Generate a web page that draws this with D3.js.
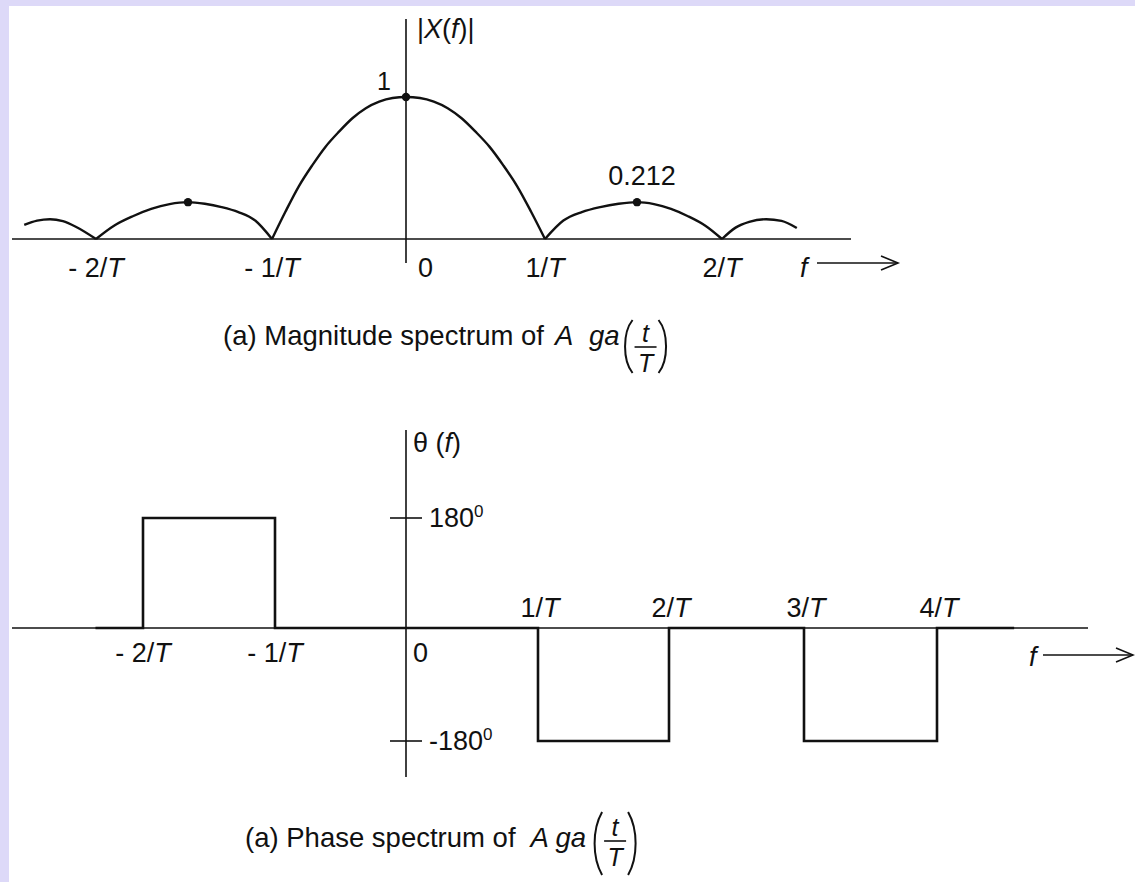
<!DOCTYPE html>
<html><head><meta charset="utf-8">
<script src="https://cdn.jsdelivr.net/npm/d3@7"></script>
<style>
html,body{margin:0;padding:0;background:#fff;}
svg{display:block;}
text{font-family:"Liberation Sans",Arial,Helvetica,sans-serif;fill:#111;white-space:pre;}
</style></head><body>
<svg id="fig" width="1135" height="882"></svg>
<script>
// ---- Magnitude spectrum |X(f)|, one array per lobe (f in units of 1/T) ----
const outerLeftLobe  = [[-2.39,0.07],[-2.32,0.095],[-2.25,0.104],[-2.18,0.092],[-2.11,0.06],[-2,0]];
const sideLeftLobe   = [[-2,0],[-1.9,0.067],[-1.8,0.122],[-1.7,0.168],[-1.6,0.199],[-1.5,0.212],[-1.4,0.2015],[-1.3,0.18],[-1.2,0.148],[-1.1,0.096],[-1,0]];
const mainLobe       = [[-1,0],[-0.9,0.15],[-0.8,0.32],[-0.7,0.47],[-0.6,0.61],[-0.5,0.725],[-0.4,0.83],[-0.3,0.91],[-0.2,0.963],[-0.1,0.992],[0,1],
                        [0.1,0.992],[0.2,0.963],[0.3,0.91],[0.4,0.83],[0.5,0.725],[0.6,0.61],[0.7,0.47],[0.8,0.32],[0.9,0.15],[1,0]];
const sideRightLobe  = [[1,0],[1.1,0.096],[1.2,0.148],[1.3,0.18],[1.4,0.2015],[1.5,0.212],[1.6,0.199],[1.7,0.168],[1.8,0.122],[1.9,0.067],[2,0]];
const outerRightLobe = [[2,0],[2.08,0.055],[2.16,0.088],[2.26,0.104],[2.35,0.094],[2.44,0.053]];
const magMarkers     = [[-1.5,0.212],[0,1],[1.5,0.212]];
const magTicks       = [-2,-1,0,1,2];
const magTickLabels  = ["- 2/T","- 1/T","0","1/T","2/T"];

// ---- Phase spectrum θ(f) in degrees, step values starting at each f ----
const phaseSteps       = [[-2.36,0],[-2,180],[-1,0],[1,-180],[2,0],[3,-180],[4,0],[4.58,0]];
const phaseTicksBelow  = [-2,-1,0];
const phaseLabelsBelow = ["- 2/T","- 1/T","0"];
const phaseTicksAbove  = [1,2,3,4];
const phaseLabelsAbove = ["1/T","2/T","3/T","4/T"];
const phaseDegTicks    = [180,-180];
const phaseDegLabels   = ["180","-180"];

const svg = d3.select("#fig");
const INK = "#111";

// page frame: lavender strips along the top and left edges
svg.append("rect").attr("x",0).attr("y",0).attr("width",1135).attr("height",882).attr("fill","#fff");
svg.append("rect").attr("x",0).attr("y",0).attr("width",1135).attr("height",6).attr("fill","#ddd9f8");
svg.append("rect").attr("x",0).attr("y",0).attr("width",9).attr("height",882).attr("fill","#ddd9f8");

// label with an italic T after the slash
function fracLabel(sel, s){
  const i = s.indexOf("T");
  if(i < 0){ sel.text(s); return; }
  sel.append("tspan").text(s.slice(0,i));
  sel.append("tspan").attr("font-style","italic").text("T");
}
function arrow(g, x0, x1, y){
  g.append("line").attr("x1",x0).attr("x2",x1).attr("y1",y).attr("y2",y)
    .attr("stroke",INK).attr("stroke-width",1.6);
  g.append("path").attr("d",`M${x1-17},${y-7}L${x1},${y}L${x1-17},${y+7}`)
    .attr("fill","none").attr("stroke",INK).attr("stroke-width",1.6);
}
// caption "... A ga (t/T)" with a stacked fraction in tall parentheses
function caption(x, y, lead, aGap, gaGap, gap, parenTop, parenBot, barY){
  const t = svg.append("text").attr("x",x).attr("y",y).attr("font-size",27.5);
  t.append("tspan").text(lead);
  t.append("tspan").attr("font-style","italic").attr("dx",aGap).text("A");
  t.append("tspan").attr("font-style","italic").attr("dx",gaGap).text(" ga");
  const x0 = x + t.node().getComputedTextLength() + aGap + gaGap + gap;
  const g = svg.append("g");
  const mid = (parenTop+parenBot)/2;
  g.append("path").attr("d",`M${x0+9},${parenTop}C${x0-1},${mid-14} ${x0-1},${mid+14} ${x0+9},${parenBot}`)
    .attr("fill","none").attr("stroke",INK).attr("stroke-width",2);
  g.append("path").attr("d",`M${x0+35},${parenTop}C${x0+45},${mid-14} ${x0+45},${mid+14} ${x0+35},${parenBot}`)
    .attr("fill","none").attr("stroke",INK).attr("stroke-width",2);
  g.append("line").attr("x1",x0+11).attr("x2",x0+33).attr("y1",barY).attr("y2",barY)
    .attr("stroke",INK).attr("stroke-width",1.6);
  g.append("text").attr("x",x0+22).attr("y",barY-5).attr("text-anchor","middle")
    .attr("font-size",25).attr("font-style","italic").text("t");
  g.append("text").attr("x",x0+22).attr("y",barY+25).attr("text-anchor","middle")
    .attr("font-size",25).attr("font-style","italic").text("T");
}

// ================= (a) Magnitude spectrum =================
const xM = d3.scaleLinear().domain([-2,-1.5,-1,0,1,1.5,2]).range([96,188,272,406,545,637,722]);
const yM = d3.scalePow().exponent(0.87).domain([0,1]).range([239,97]);
const gMag = svg.append("g");

gMag.append("line").attr("x1",12).attr("x2",851).attr("y1",yM(0)).attr("y2",yM(0))
  .attr("stroke",INK).attr("stroke-width",1.6);
gMag.append("line").attr("x1",xM(0)).attr("x2",xM(0)).attr("y1",19).attr("y2",263)
  .attr("stroke",INK).attr("stroke-width",1.6);

const lobeLine = d3.line().x(d=>xM(d[0])).y(d=>yM(d[1])).curve(d3.curveMonotoneX);
[outerLeftLobe, sideLeftLobe, mainLobe, sideRightLobe, outerRightLobe].forEach(lobe=>{
  gMag.append("path").attr("d",lobeLine(lobe)).attr("fill","none")
    .attr("stroke",INK).attr("stroke-width",2.4).attr("stroke-linejoin","round");
});
gMag.selectAll("circle.mk").data(magMarkers).join("circle").attr("class","mk")
  .attr("cx",d=>xM(d[0])).attr("cy",d=>yM(d[1])).attr("r",4.2).attr("fill",INK);

// tick labels under the f axis
magTicks.forEach((f,i)=>{
  const isZero = f === 0;
  const t = gMag.append("text").attr("x", isZero ? xM(f)+12 : xM(f)).attr("y",277)
    .attr("font-size",27).attr("text-anchor", isZero ? "start" : "middle");
  fracLabel(t, magTickLabels[i]);
});
// value labels
gMag.append("text").attr("x",xM(0)-15).attr("y",90).attr("font-size",25)
  .attr("text-anchor","end").text(d3.format("")(magMarkers[1][1]));
gMag.append("text").attr("x",xM(1.5)+5).attr("y",yM(0.212)-17).attr("font-size",27)
  .attr("text-anchor","middle").text(d3.format(".3f")(magMarkers[2][1]));
// axis names
const yl = gMag.append("text").attr("x",xM(0)+11).attr("y",38).attr("font-size",27);
yl.append("tspan").text("|");
yl.append("tspan").attr("font-style","italic").text("X");
yl.append("tspan").text("(");
yl.append("tspan").attr("font-style","italic").text("f");
yl.append("tspan").text(")|");
gMag.append("text").attr("x",800).attr("y",277).attr("font-size",27).attr("font-style","italic").text("f");
arrow(gMag, 817, 898, 263);

caption(223, 345, "(a) Magnitude spectrum of", 11, 9, 4, 320, 373, 347);

// ================= (a) Phase spectrum =================
const xP = d3.scaleLinear().domain([-2,-1,0,1,2,3,4]).range([143,275,406,538,669,804,937]);
const yP = d3.scaleLinear().domain([-180,0,180]).range([741,628,518]);
const gPh = svg.append("g");

gPh.append("line").attr("x1",12).attr("x2",1088).attr("y1",yP(0)).attr("y2",yP(0))
  .attr("stroke",INK).attr("stroke-width",1.5);
gPh.append("line").attr("x1",xP(0)).attr("x2",xP(0)).attr("y1",430).attr("y2",777)
  .attr("stroke",INK).attr("stroke-width",1.6);

const stepLine = d3.line().x(d=>xP(d[0])).y(d=>yP(d[1])).curve(d3.curveStepAfter);
gPh.append("path").attr("d",stepLine(phaseSteps)).attr("fill","none")
  .attr("stroke",INK).attr("stroke-width",2.6).attr("stroke-linejoin","miter");

// degree ticks on the θ axis
phaseDegTicks.forEach((v,i)=>{
  gPh.append("line").attr("x1",xP(0)-16).attr("x2",xP(0)+16).attr("y1",yP(v)).attr("y2",yP(v))
    .attr("stroke",INK).attr("stroke-width",1.6);
  const t = gPh.append("text").attr("x",xP(0)+23).attr("y",yP(v)+9).attr("font-size",27);
  t.append("tspan").text(phaseDegLabels[i]);
  t.append("tspan").attr("font-size",17).attr("dy",-10).text("0");
});
phaseTicksBelow.forEach((f,i)=>{
  const isZero = f === 0;
  const t = gPh.append("text").attr("x", isZero ? xP(f)+7 : xP(f)).attr("y",662)
    .attr("font-size",27).attr("text-anchor", isZero ? "start" : "middle");
  fracLabel(t, phaseLabelsBelow[i]);
});
phaseTicksAbove.forEach((f,i)=>{
  const t = gPh.append("text").attr("x",xP(f)+2).attr("y",617)
    .attr("font-size",27).attr("text-anchor","middle");
  fracLabel(t, phaseLabelsAbove[i]);
});
const pl = gPh.append("text").attr("x",xP(0)+7).attr("y",452).attr("font-size",27);
pl.append("tspan").text("θ (");
pl.append("tspan").attr("font-style","italic").text("f");
pl.append("tspan").text(")");
gPh.append("text").attr("x",1029).attr("y",666).attr("font-size",27).attr("font-style","italic").text("f");
arrow(gPh, 1043, 1133, 655);

caption(245, 847, "(a) Phase spectrum of", 15, 0, 7, 812, 875, 841);
</script>
</body></html>
